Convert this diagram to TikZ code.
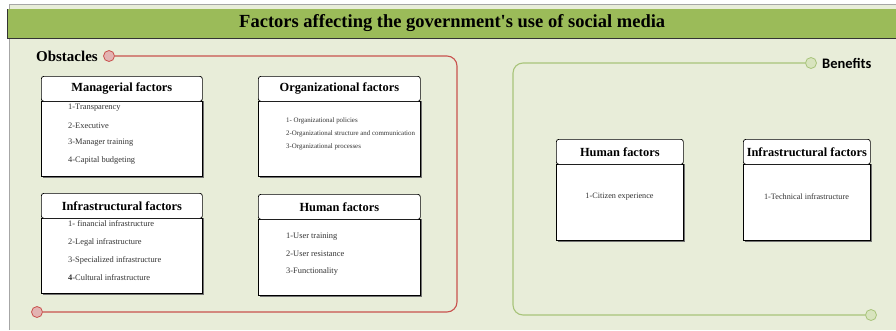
\documentclass[tikz,border=0pt]{standalone}
\usepackage{fontspec}
\setmainfont{Liberation Serif}
\newfontfamily\calib{Carlito}
\usetikzlibrary{calc}
\definecolor{bgc}{HTML}{E8EDD9}
\definecolor{barc}{HTML}{9BBB59}
\definecolor{redl}{HTML}{C9524E}
\definecolor{redf}{HTML}{E3B3B2}
\definecolor{grnl}{HTML}{A8C47A}
\definecolor{grnf}{HTML}{D8E4BE}
\definecolor{txtc}{HTML}{333333}
\tikzset{
  hdr/.style={draw=black, line width=0.7pt, fill=white, rounded corners=2.5pt},
  bodybox/.style={draw=black, line width=0.7pt, fill=white},
  htitle/.style={font=\bfseries\fontsize{12.4}{13}\selectfont, inner sep=0pt},
  item/.style={anchor=west, font=\fontsize{8.4}{9}\selectfont, text=txtc, inner sep=0pt},
  sitem/.style={anchor=west, font=\fontsize{6.9}{7.5}\selectfont, text=txtc, inner sep=0pt},
  rdot/.style={circle, draw=redl, fill=redf, line width=0.8pt, minimum size=11pt, inner sep=0pt},
  gdot/.style={circle, draw=grnl, fill=grnf, line width=0.8pt, minimum size=11pt, inner sep=0pt},
}
\newcommand{\factorbox}[6]{% name, x1, y1, x2, y2(header bottom), y3(body bottom)
  \fill[black!55] (#2+1.5,#5) rectangle (#4+1.5,#6+1.5);
  \node[bodybox, minimum width=#4-#2, minimum height=#6-#5, anchor=north west, inner sep=0pt] (#1body) at (#2,#5) {};
  \node[hdr, minimum width=#4-#2, minimum height=#5-#3, anchor=north west, inner sep=0pt] (#1) at (#2,#3) {};
}
\begin{document}
\begin{tikzpicture}[x=1pt,y=-1pt]
\useasboundingbox (0,0) rectangle (896,330);
\fill[white] (0,0) rectangle (896,330);
% panel background
\fill[bgc] (9.5,4.5) rectangle (896,330);
\draw[black!35, line width=1pt] (9.5,330) -- (9.5,4.5) -- (896,4.5);
% title bar
\fill[black!80] (7,9) rectangle (896,39);
\node[fill=barc, minimum width=888pt, minimum height=28.5pt, anchor=north west, inner sep=0pt] (title) at (8,9) {};
\node[font=\bfseries\fontsize{18.5}{19}\selectfont] at (title.center) {Factors affecting the government\textquotesingle s use of social media};

% Obstacles frame
\node[rdot] (o1) at (109,56) {};
\node[rdot] (o2) at (37,312) {};
\node[anchor=east, font=\bfseries\fontsize{15}{16}\selectfont, inner sep=0pt] (obs) at (98,56) {Obstacles};
\draw[redl, line width=1.1pt, rounded corners=10pt] (o1.east) -- (457,56) -- (457,312) -- (o2.east);

% Benefits frame
\node[gdot] (b1) at (811,63) {};
\node[gdot] (b2) at (871,315) {};
\node[anchor=west, font=\calib\bfseries\fontsize{14.5}{15}\selectfont, inner sep=0pt] (ben) at (822,63.5) {Benefits};
\draw[grnl, line width=1.1pt, rounded corners=10pt] (b1.west) -- (513,63) -- (513,315) -- (b2.west);

% Managerial
\factorbox{man}{41}{76}{202}{101}{176}
\node[htitle] at (man.center) {Managerial factors};
\node[item] at (68,108) {1-Transparency};
\node[item] at (68,125.5) {2-Executive};
\node[item] at (68,143) {3-Manager training};
\node[item] at (68,160.5) {4-Capital budgeting};

% Organizational
\factorbox{org}{258}{76}{420}{101}{176}
\node[htitle] at (org.center) {Organizational factors};
\node[sitem] at (286,121) {1- Organizational policies};
\node[sitem] at (286,134) {2-Organizational structure and communication};
\node[sitem] at (286,147) {3-Organizational processes};

% Infrastructural
\factorbox{inf}{41}{193}{202}{218}{293}
\node[htitle] at (inf.center) {Infrastructural factors};
\node[item] at (68,224) {1- financial infrastructure};
\node[item] at (68,242.5) {2-Legal infrastructure};
\node[item] at (68,260) {3-Specialized infrastructure};
\node[item] at (68,277.5) {\textbf{4-}Cultural infrastructure};

% Human (obstacles)
\factorbox{hum}{258}{194}{420}{219}{295}
\node[htitle] at (hum.center) {Human factors};
\node[item] at (286,237) {1-User training};
\node[item] at (286,253.5) {2-User resistance};
\node[item] at (286,271) {3-Functionality};

% Benefits boxes
\factorbox{bhum}{556}{139}{683}{164}{240}
\node[htitle] at (bhum.center) {Human factors};
\node[font=\fontsize{8.2}{9}\selectfont, text=txtc, inner sep=0pt] at (619.5,197) {1-Citizen experience};

\factorbox{binf}{743}{139}{870}{164}{240}
\node[htitle] at (binf.center) {Infrastructural factors};
\node[font=\fontsize{8.2}{9}\selectfont, text=txtc, inner sep=0pt] at (806.5,197) {1-Technical infrastructure};
\end{tikzpicture}
\end{document}
